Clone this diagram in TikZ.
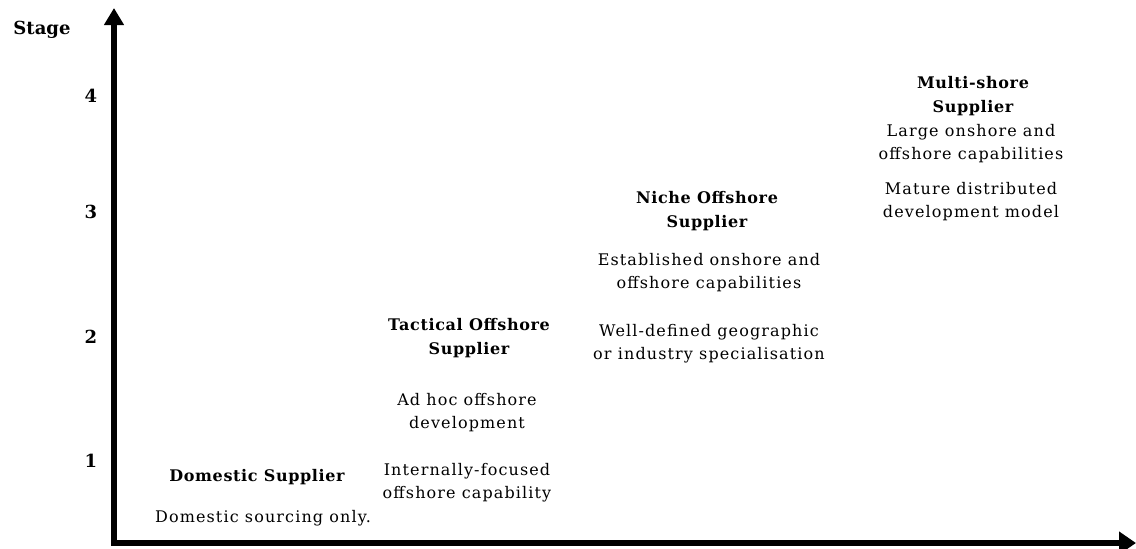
\documentclass[tikz,border=0pt]{standalone}
\usepackage{fontspec}
\setmainfont{DejaVu Serif}
\newfontfamily\spaced[LetterSpace=7]{DejaVu Serif}
\newfontfamily\spacedbf[LetterSpace=4]{DejaVu Serif Bold}
\usetikzlibrary{arrows.meta}
\tikzset{
  body/.style={align=center, inner sep=0pt, font=\spaced\fontsize{16}{23}\selectfont},
  title/.style={align=center, inner sep=0pt, font=\spacedbf\fontsize{16}{24}\selectfont},
  lvl/.style={inner sep=0pt, font=\bfseries\fontsize{18}{20}\selectfont},
  axis/.style={line width=6pt, line join=miter, {Triangle[length=17pt,width=19pt]}-{Triangle[length=17pt,width=22pt]}}
}
\begin{document}
\begin{tikzpicture}[x=1pt,y=-1pt]
\useasboundingbox (0,0) rectangle (1136,549);
\coordinate (ytop) at (114,8);
\coordinate (origin) at (114,543);
\coordinate (xend) at (1136,543);
\draw[axis] (ytop) -- (origin) -- (xend);

\node[lvl] (stage) at (42,30) {Stage};
\node[lvl] (l4) at (91,96) {4};
\node[lvl] (l3) at (91,212) {3};
\node[lvl] (l2) at (91,337) {2};
\node[lvl] (l1) at (91,461) {1};

\node[title] (domT) at (257,477) {Domestic Supplier};
\node[body] (domB) at (263,518) {Domestic sourcing only.};

\node[title] (tacT) at (469,338) {Tactical Offshore\\Supplier};
\node[body] (tacB1) at (467,413) {Ad hoc offshore\\development};
\node[body] (tacB2) at (467,483) {Internally-focused\\offshore capability};

\node[title] (nicT) at (707,211) {Niche Offshore\\Supplier};
\node[body] (nicB1) at (709,273) {Established onshore and\\offshore capabilities};
\node[body] (nicB2) at (709,344) {Well-defined geographic\\or industry specialisation};

\node[title] (mulT) at (973,96) {Multi-shore\\Supplier};
\node[body] (mulB1) at (971,144) {Large onshore and\\offshore capabilities};
\node[body] (mulB2) at (971,202) {Mature distributed\\development model};
\end{tikzpicture}
\end{document}
